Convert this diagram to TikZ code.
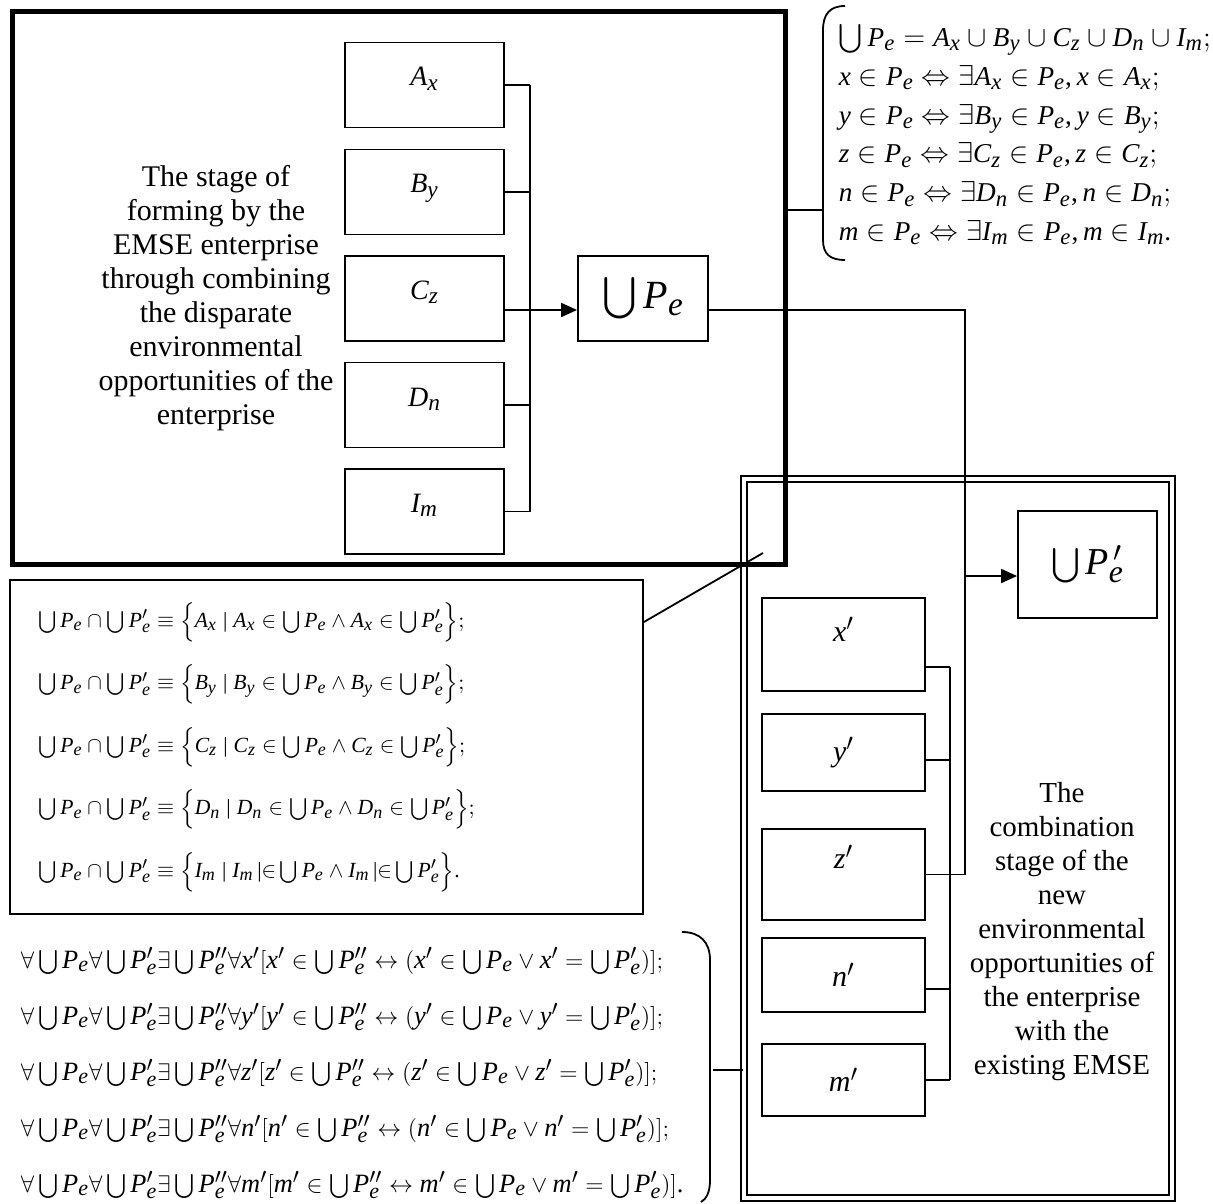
\documentclass[tikz,border=0pt]{standalone}
\usepackage{amsmath}
\usepackage{fontspec}
\setmainfont{Liberation Serif}
\usepackage[italic]{mathastext}
\usetikzlibrary{arrows.meta}

\begin{document}
\begin{tikzpicture}[x=0.5pt, y=0.5pt, line width=0.9pt,
  every node/.style={inner sep=2pt},
  box/.style={draw, rectangle, minimum width=79.5pt, minimum height=42.5pt,
    font=\fontsize{14}{16}\selectfont, text height=10pt, text depth=9pt},
  pbox/.style={draw, rectangle, minimum width=81.5pt, font=\fontsize{15}{17}\selectfont},
  arr/.style={-{Triangle[length=8pt,width=7pt]}}]
\useasboundingbox (0,0) rectangle (1213,-1203);

% second stage, drawn first so the thick frame lies on top
\node[draw, double, double distance=2.2pt, line width=0.8pt,
  minimum width=214pt, minimum height=359.5pt] (combo) at (958,-838.5) {};
\node[draw, line width=2.5pt, minimum width=386.5pt, minimum height=276pt] (stage) at (398.5,-288) {};

\node[align=center, font=\fontsize{15}{17}\selectfont] (stagetext) at (216,-298)
  {The stage of\\forming by the\\EMSE enterprise\\through combining\\the disparate\\environmental\\opportunities of the\\enterprise};

\node[box] (ax) at (424.5,-85) {$A_x$};
\node[box] (by) at (424.5,-192) {$B_y$};
\node[box] (cz) at (424.5,-298.5) {$C_z$};
\node[box] (dn) at (424.5,-405) {$D_n$};
\node[box] (im) at (424.5,-511.5) {$I_m$};
\node[draw, minimum width=65pt, minimum height=42.5pt, font=\fontsize{20}{22}\selectfont] (pe) at (643,-298.5) {$\bigcup P_e$};

\coordinate (busL) at (530,0);
\foreach \n in {ax,by,dn,im}
  \draw (\n.east) -- (\n.east -| busL);
\draw (ax.east -| busL) -- (im.east -| busL);
\coordinate (czout) at ([yshift=-5.75pt]cz.east);
\draw[arr] (czout) -- (czout -| pe.west);

% right part
\node[pbox, minimum height=46.5pt, text height=11pt, text depth=14.5pt] (xp) at (843.5,-644.5) {$x'$};
\node[pbox, minimum height=38.5pt] (yp) at (843.5,-752.5) {$y'$};
\node[pbox, minimum height=45.5pt, text height=11pt, text depth=17pt] (zp) at (843.5,-874.5) {$z'$};
\node[pbox, minimum height=37pt] (np) at (843.5,-975) {$n'$};
\node[pbox, minimum height=36pt] (mp) at (843.5,-1080) {$m'$};
\node[draw, minimum width=69.5pt, minimum height=53.5pt, font=\fontsize{19}{21}\selectfont] (pep) at (1087.5,-564.5) {$\bigcup P^{\,\prime}_e$};

\node[align=center, font=\fontsize{14.5}{17}\selectfont] (combotext) at (1062,-932)
  {The\\combination\\stage of the\\new\\environmental\\opportunities of\\the enterprise\\with the\\existing EMSE};

\coordinate (busR) at (950,0);
\coordinate (xpo) at ([yshift=-11.25pt]xp.east);
\coordinate (ypo) at ([yshift=-3.75pt]yp.east);
\coordinate (npo) at ([yshift=-7pt]np.east);
\foreach \c in {xpo,ypo,npo,mp.east}
  \draw (\c) -- (\c -| busR);
\draw (xpo -| busR) -- (mp.east -| busR);

\coordinate (peout) at ([yshift=-5.75pt]pe.east);
\coordinate (jn) at (965,-310);
\draw (peout) -- (jn) |- (zp.east);
\coordinate (pepin) at ([yshift=-5.75pt]pep.west);
\draw[arr] (pepin -| jn) -- (pepin);

% formulas
\coordinate (bracemid) at (823,-210);
\draw ([yshift=39pt]stage.east) -- (bracemid);
\draw (845,-6) .. controls (830,-6) and (823,-14) .. (823,-30) -- (823,-240)
  .. controls (823,-254) and (830,-260) .. (845,-260);
\node[anchor=west, align=left, inner sep=0pt, font=\fontsize{13.6}{19.4}\selectfont] (topeqs) at (838,-135)
  {$\bigcup P_e = A_x \cup B_y \cup C_z \cup D_n \cup I_m;$\\
   $x \in P_e \Leftrightarrow \exists A_x \in P_e, x \in A_x;$\\
   $y \in P_e \Leftrightarrow \exists B_y \in P_e, y \in B_y;$\\
   $z \in P_e \Leftrightarrow \exists C_z \in P_e, z \in C_z;$\\
   $n \in P_e \Leftrightarrow \exists D_n \in P_e, n \in D_n;$\\
   $m \in P_e \Leftrightarrow \exists I_m \in P_e, m \in I_m.$};

\node[draw, minimum width=316.5pt, minimum height=167pt, inner xsep=14pt, text width=288pt,
  align=left, font=\fontsize{10.8}{31.25}\selectfont] (interbox) at (326.5,-747)
  {$\bigcup P_e \cap \bigcup P'_e \equiv \Big\{A_x \mid A_x \in \bigcup P_e \wedge A_x \in \bigcup P'_e\Big\};$\\
   $\bigcup P_e \cap \bigcup P'_e \equiv \Big\{B_y \mid B_y \in \bigcup P_e \wedge B_y \in \bigcup P'_e\Big\};$\\
   $\bigcup P_e \cap \bigcup P'_e \equiv \Big\{C_z \mid C_z \in \bigcup P_e \wedge C_z \in \bigcup P'_e\Big\};$\\
   $\bigcup P_e \cap \bigcup P'_e \equiv \Big\{D_n \mid D_n \in \bigcup P_e \wedge D_n \in \bigcup P'_e\Big\};$\\
   $\bigcup P_e \cap \bigcup P'_e \equiv \Big\{I_m \mid I_m \,|{\in} \bigcup P_e \wedge I_m \,|{\in} \bigcup P'_e\Big\}.$};
\coordinate (callend) at (763,-553);
\draw ([yshift=62.5pt]interbox.east) -- (callend);

\node[anchor=west, align=left, font=\fontsize{13.2}{28}\selectfont] (foralleqs) at (16,-1073)
  {$\forall\bigcup P_e\forall\bigcup P'_e\exists\bigcup P''_e\forall x'[x'\in\bigcup P''_e \leftrightarrow (x'\in\bigcup P_e\vee x'=\bigcup P'_e)];$\\
   $\forall\bigcup P_e\forall\bigcup P'_e\exists\bigcup P''_e\forall y'[y'\in\bigcup P''_e \leftrightarrow (y'\in\bigcup P_e\vee y'=\bigcup P'_e)];$\\
   $\forall\bigcup P_e\forall\bigcup P'_e\exists\bigcup P''_e\forall z'[z'\in\bigcup P''_e \leftrightarrow (z'\in\bigcup P_e\vee z'=\bigcup P'_e)];$\\
   $\forall\bigcup P_e\forall\bigcup P'_e\exists\bigcup P''_e\forall n'[n'\in\bigcup P''_e \leftrightarrow (n'\in\bigcup P_e\vee n'=\bigcup P'_e)];$\\
   $\forall\bigcup P_e\forall\bigcup P'_e\exists\bigcup P''_e\forall m'[m'\in\bigcup P''_e \leftrightarrow m'\in\bigcup P_e\vee m'=\bigcup P'_e)].$};
\draw (682,-932) .. controls (700,-932) and (710,-942) .. (710,-960) -- (710,-1180)
  .. controls (710,-1193) and (706,-1199) .. (701,-1202);
\coordinate (brk) at (713,-1070);
\draw (brk) -- (brk -| combo.west);
\end{tikzpicture}
\end{document}
